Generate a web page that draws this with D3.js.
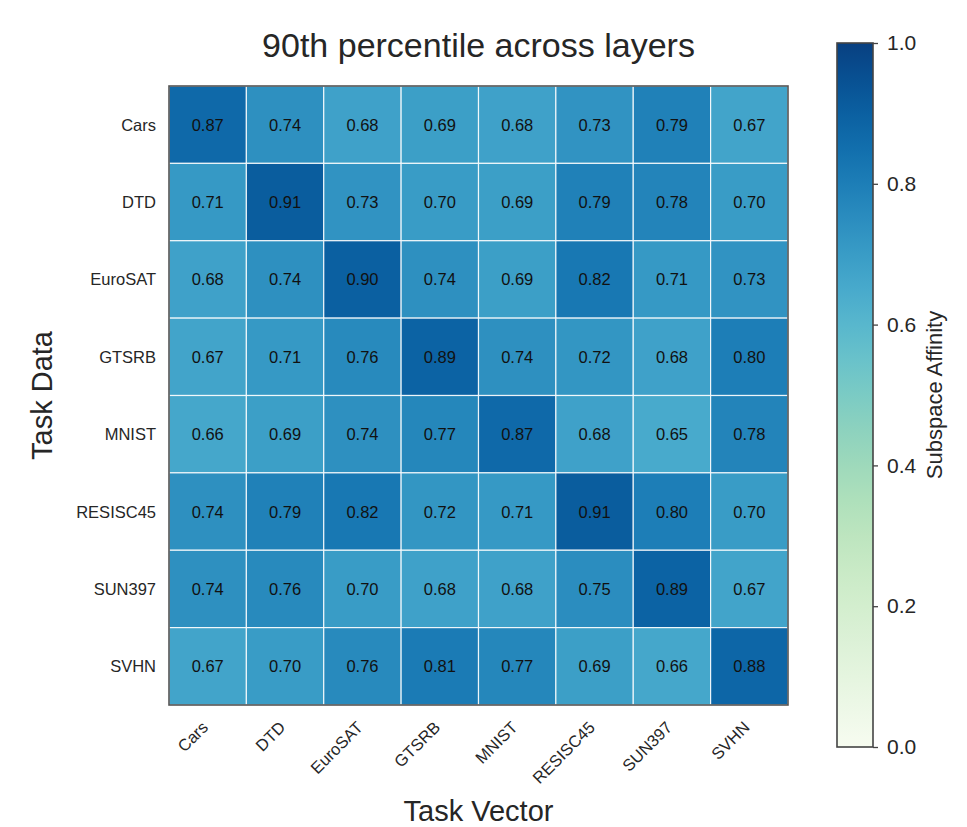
<!DOCTYPE html>
<html lang="en">
<head>
    <meta charset="UTF-8">
    <title>90th percentile across layers</title>
    <script src="https://d3js.org/d3.v7.min.js"></script>
    <style>
        body{ margin:0; background:#fff; }
        text{ font-family: "Liberation Sans", Arial, sans-serif; fill:#262626; }
    </style>
</head>
<body>
<svg width="967" height="827"></svg>
<script>
    // task names (rows = task data, columns = task vector)
    const tasks = ["Cars", "DTD", "EuroSAT", "GTSRB", "MNIST", "RESISC45", "SUN397", "SVHN"];

    const rowCars     = [0.87, 0.74, 0.68, 0.69, 0.68, 0.73, 0.79, 0.67];
    const rowDTD      = [0.71, 0.91, 0.73, 0.70, 0.69, 0.79, 0.78, 0.70];
    const rowEuroSAT  = [0.68, 0.74, 0.90, 0.74, 0.69, 0.82, 0.71, 0.73];
    const rowGTSRB    = [0.67, 0.71, 0.76, 0.89, 0.74, 0.72, 0.68, 0.80];
    const rowMNIST    = [0.66, 0.69, 0.74, 0.77, 0.87, 0.68, 0.65, 0.78];
    const rowRESISC45 = [0.74, 0.79, 0.82, 0.72, 0.71, 0.91, 0.80, 0.70];
    const rowSUN397   = [0.74, 0.76, 0.70, 0.68, 0.68, 0.75, 0.89, 0.67];
    const rowSVHN     = [0.67, 0.70, 0.76, 0.81, 0.77, 0.69, 0.66, 0.88];

    const colorTicks = [0.0, 0.2, 0.4, 0.6, 0.8, 1.0];

    const rows = [rowCars, rowDTD, rowEuroSAT, rowGTSRB, rowMNIST, rowRESISC45, rowSUN397, rowSVHN];

    let cells = [];
    rows.forEach((r, i) => r.forEach((v, j) => cells.push({row: tasks[i], col: tasks[j], value: v})));

    let svg = d3.select("svg");

    const gLeft = 169, gRight = 788, gTop = 86, gBottom = 705;

    let x = d3.scaleBand().domain(tasks).range([gLeft, gRight]);
    let y = d3.scaleBand().domain(tasks).range([gTop, gBottom]);
    let color = d3.scaleSequential(d3.interpolateGnBu).domain([0, 1]);

    // cells
    svg.append("g")
        .selectAll("rect")
        .data(cells)
        .join("rect")
        .attr("x", d => x(d.col))
        .attr("y", d => y(d.row))
        .attr("width", x.bandwidth())
        .attr("height", y.bandwidth())
        .attr("fill", d => color(d.value))
        .attr("stroke", "#ffffff")
        .attr("stroke-opacity", 0.85)
        .attr("stroke-width", 1.2);

    // annotations
    svg.append("g")
        .selectAll("text")
        .data(cells)
        .join("text")
        .attr("x", d => x(d.col) + x.bandwidth() / 2)
        .attr("y", d => y(d.row) + y.bandwidth() / 2)
        .attr("text-anchor", "middle")
        .attr("dy", "0.36em")
        .style("font-size", "16.5px")
        .style("fill", "#111")
        .text(d => d3.format(".2f")(d.value));

    // frame
    svg.append("rect")
        .attr("x", gLeft).attr("y", gTop)
        .attr("width", gRight - gLeft).attr("height", gBottom - gTop)
        .attr("fill", "none")
        .attr("stroke", "#555")
        .attr("stroke-width", 1.6);

    // y tick labels
    svg.append("g")
        .selectAll("text")
        .data(tasks)
        .join("text")
        .attr("x", gLeft - 13)
        .attr("y", d => y(d) + y.bandwidth() / 2)
        .attr("dy", "0.36em")
        .attr("text-anchor", "end")
        .style("font-size", "16.5px")
        .text(d => d);

    // x tick labels
    svg.append("g")
        .selectAll("text")
        .data(tasks)
        .join("text")
        .attr("transform", d => `translate(${x(d) + x.bandwidth() / 2 - 7},${gBottom + 15}) rotate(-45)`)
        .attr("text-anchor", "end")
        .attr("dy", "0.72em")
        .style("font-size", "16.5px")
        .text(d => d);

    // titles
    svg.append("text")
        .attr("x", (gLeft + gRight) / 2).attr("y", 57)
        .attr("text-anchor", "middle")
        .style("font-size", "34px")
        .text("90th percentile across layers");

    svg.append("text")
        .attr("x", (gLeft + gRight) / 2).attr("y", 821)
        .attr("text-anchor", "middle")
        .style("font-size", "29px")
        .text("Task Vector");

    svg.append("text")
        .attr("transform", `translate(52,${(gTop + gBottom) / 2}) rotate(-90)`)
        .attr("text-anchor", "middle")
        .style("font-size", "29px")
        .text("Task Data");

    // colorbar
    const cbX = 837, cbW = 36, cbTop = 43, cbBottom = 747;
    let cScale = d3.scaleLinear().domain([0, 1]).range([cbBottom, cbTop]);

    let grad = svg.append("defs").append("linearGradient")
        .attr("id", "cb")
        .attr("x1", 0).attr("y1", 1).attr("x2", 0).attr("y2", 0);
    d3.range(0, 1.0001, 0.05).forEach(t => {
        grad.append("stop").attr("offset", t).attr("stop-color", color(t));
    });

    svg.append("rect")
        .attr("x", cbX).attr("y", cbTop)
        .attr("width", cbW).attr("height", cbBottom - cbTop)
        .attr("fill", "url(#cb)")
        .attr("stroke", "#444")
        .attr("stroke-width", 1.6);

    let cAxis = svg.append("g")
        .attr("transform", `translate(${cbX + cbW},0)`)
        .call(d3.axisRight(cScale).tickValues(colorTicks).tickFormat(d3.format(".1f")).tickSize(5).tickPadding(9));
    cAxis.select(".domain").remove();
    cAxis.selectAll("line").attr("stroke", "#444").attr("stroke-width", 1.3);
    cAxis.selectAll("text").style("font-size", "21px").style("font-family", "Liberation Sans, Arial, sans-serif").attr("fill", "#262626");

    svg.append("text")
        .attr("transform", `translate(942,${(cbTop + cbBottom) / 2}) rotate(-90)`)
        .attr("text-anchor", "middle")
        .style("font-size", "22px")
        .text("Subspace Affinity");
</script>
</body>
</html>
